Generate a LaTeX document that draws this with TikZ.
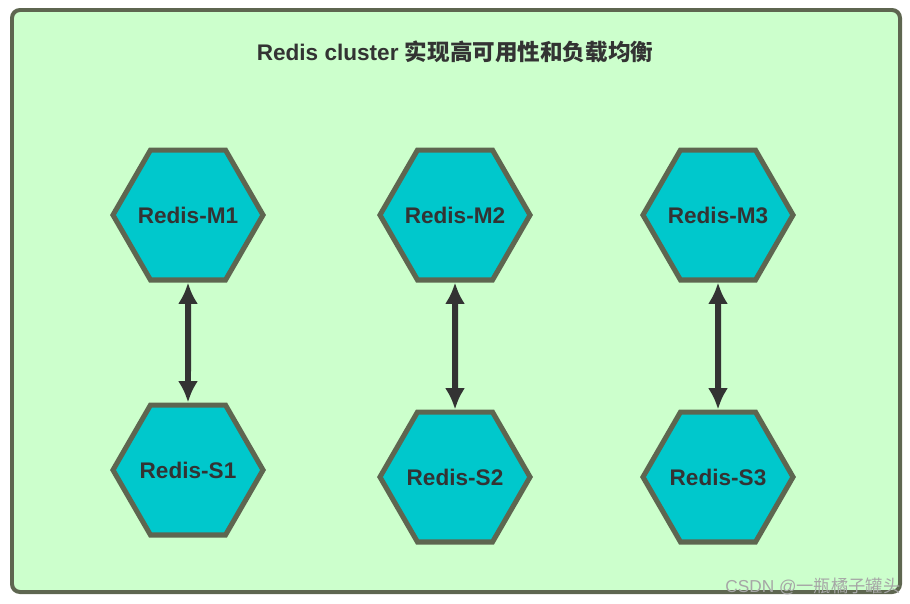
\documentclass[tikz,border=0pt]{standalone}
\usepackage{fontspec}
\setmainfont{Liberation Sans}
\newfontfamily\cjk{Noto Sans CJK SC}
\usetikzlibrary{shapes.geometric,arrows.meta}
\definecolor{bggreen}{HTML}{CCFFCC}
\definecolor{edgegray}{HTML}{5E6650}
\definecolor{hexfill}{HTML}{00C8CC}
\definecolor{arrowgray}{HTML}{333333}
\tikzset{
  redis/.style={regular polygon, regular polygon sides=6, minimum size=3.97cm,
    inner sep=-15pt, fill=hexfill, draw=edgegray, line width=3.8pt,
    font=\fontsize{17}{20}\selectfont\bfseries, text=arrowgray},
  link/.style={{Latex[length=16pt,width=15pt]}-{Latex[length=16pt,width=15pt]},
    line width=4.5pt, draw=arrowgray}
}
\begin{document}
\begin{tikzpicture}[x=0.02646cm,y=-0.02646cm]
        \useasboundingbox (0,0) rectangle (910,603);
        \draw[fill=bggreen, draw=edgegray, line width=3pt, rounded corners=6pt] (12,10) rectangle (900,592);
        \node[font=\fontsize{17}{20}\selectfont\bfseries, text=arrowgray] (title) at (455,52) {Redis cluster {\cjk 实现高可用性和负载均衡}};

        \node[redis] (m1) at (188,215) {Redis-M1};
        \node[redis] (m2) at (455,215) {Redis-M2};
        \node[redis] (m3) at (718,215) {Redis-M3};

        \node[redis] (s1) at (188,470) {Redis-S1};
        \node[redis] (s2) at (455,477) {Redis-S2};
        \node[redis] (s3) at (718,477) {Redis-S3};

        \draw[link] (m1) -- (s1);
        \draw[link] (m2) -- (s2);
        \draw[link] (m3) -- (s3);

        \node[anchor=east, text=gray!70, font=\fontsize{13}{15}\selectfont] (mark) at (905,586) {CSDN @{\cjk 一瓶橘子罐头}};
\end{tikzpicture}
\end{document}
